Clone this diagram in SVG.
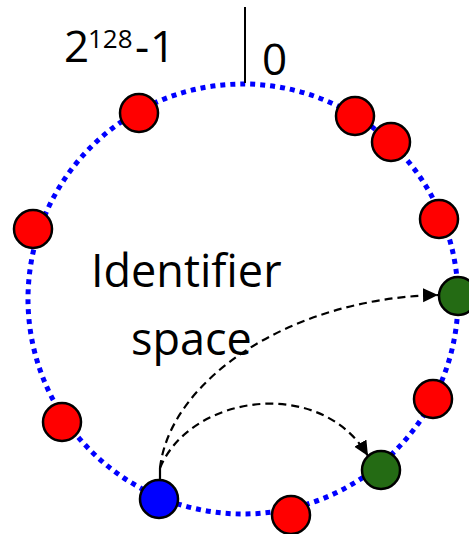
<svg xmlns="http://www.w3.org/2000/svg" width="469" height="534" viewBox="0 0 469 534">
  <style>
    .ring { fill: none; stroke: #0000FF; stroke-width: 5; stroke-dasharray: 5 5; }
    .node { stroke: #000; stroke-width: 2.5; }
    .red { fill: #FF0000; }
    .green { fill: #246B14; }
    .blue { fill: #0000FF; }
    .lbl { font-family: "Open Sans", "Liberation Sans", sans-serif; fill: #000; }
    .edge { fill: none; stroke: #000; stroke-width: 2.2; stroke-dasharray: 8 5; }
  </style>
  <defs>
    <marker id="arrow" markerUnits="userSpaceOnUse" markerWidth="16" markerHeight="15" refX="15" refY="7" orient="auto">
      <path d="M0,0 L15,7 L0,14 z" fill="#000"/>
    </marker>
  </defs>

  <rect width="469" height="534" fill="#fff"/>

  <!-- identifier ring -->
  <circle class="ring" cx="243" cy="299" r="215"/>

  <!-- zero mark -->
  <line x1="245" y1="7" x2="245" y2="83" stroke="#000" stroke-width="2"/>

  <!-- labels -->
  <text class="lbl" font-size="44" y="62"><tspan x="64">2</tspan><tspan x="88" y="48" font-size="26">128</tspan><tspan x="135" y="62">-</tspan><tspan x="150" y="62">1</tspan></text>
  <text class="lbl" font-size="44" x="262" y="75">0</text>
  <text class="lbl" font-size="45" x="91" y="287">Identifier</text>
  <text class="lbl" font-size="45" x="131" y="355">space</text>

  <!-- lookups -->
  <g id="connectors">
    <line x1="160" y1="479" x2="160" y2="468" stroke="#000" stroke-width="2.2"/>
    <path class="edge" d="M160,468 C170,380 290,298 438,295" marker-end="url(#arrow)"/>
    <path class="edge" d="M160,468 C190,395 320,375 368,456" marker-end="url(#arrow)"/>
  </g>

  <!-- peers -->
  <g id="n1"><circle class="node red" cx="139" cy="113" r="19"/></g>
  <g id="n2"><circle class="node red" cx="355" cy="116" r="19"/></g>
  <g id="n3"><circle class="node red" cx="391" cy="142" r="19"/></g>
  <g id="n4"><circle class="node red" cx="439" cy="219" r="19"/></g>
  <g id="n5"><circle class="node green" cx="458" cy="296" r="19"/></g>
  <g id="n6"><circle class="node red" cx="433" cy="399" r="19"/></g>
  <g id="n7"><circle class="node green" cx="381" cy="470" r="19"/></g>
  <g id="n8"><circle class="node red" cx="291" cy="515" r="19"/></g>
  <g id="n9"><circle class="node blue" cx="159" cy="499" r="19"/></g>
  <g id="n10"><circle class="node red" cx="62" cy="422" r="19"/></g>
  <g id="n11"><circle class="node red" cx="33" cy="229" r="19"/></g>
</svg>
